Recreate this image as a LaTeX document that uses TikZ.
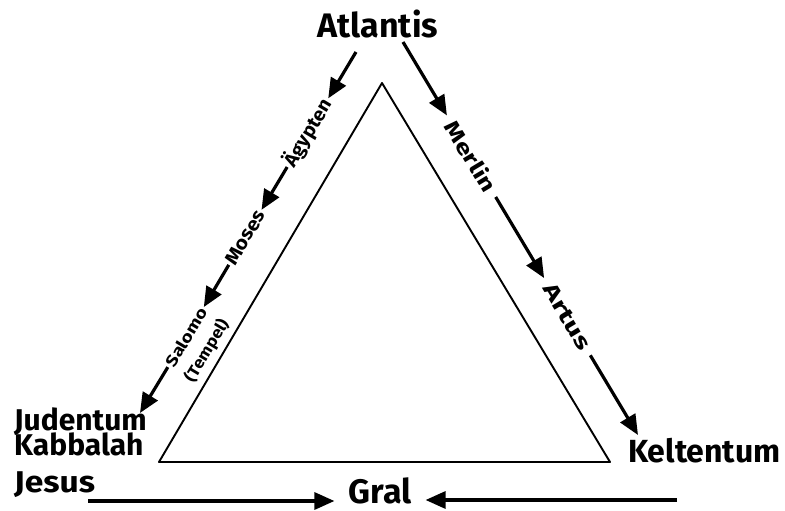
\documentclass[tikz,border=0pt]{standalone}
\usepackage{fontspec}
\setmainfont{Fira Sans}
\usetikzlibrary{arrows.meta}
\begin{document}
\begin{tikzpicture}[x=1pt,y=1pt,
  big/.style={font=\bfseries\fontsize{30}{30}\selectfont, inner sep=0pt},
  lab/.style={inner sep=0pt, outer sep=0pt, minimum height=14pt, font=\bfseries\fontsize{19}{19}\selectfont},
  arr/.style={line width=3.2pt, -{Triangle[length=20pt,width=17pt]}},
  tri/.style={line width=1.9pt, line join=round}]
\useasboundingbox (0,0) rectangle (785,-511);
% triangle
\draw[tri] (382,-83) -- (159,-462) -- (610,-462) -- cycle;
% main labels
\node[big, anchor=base, font=\bfseries\fontsize{34}{34}\selectfont] (atl) at (378,-38) {Atlantis};
\node[big, anchor=base west] (jud) at (14,-430) {Judentum};
\node[big, anchor=base west] (kab) at (14,-455) {Kabbalah};
\node[big, anchor=base west] (jes) at (14,-492) {\scalebox{1.12}[1]{Jesus}};
\node[big, anchor=base west, font=\bfseries\fontsize{32}{32}\selectfont] (kel) at (628,-462) {Keltentum};
\node[big, anchor=base, inner xsep=14pt, text depth=0pt, font=\bfseries\fontsize{34}{34}\selectfont] (gral) at (380,-503) {Gral};
% left chain labels
\coordinate (sL) at (356,-52);
\node[lab, rotate=59, minimum width=80pt] (aeg) at (307.7,-132.7) {\scalebox{1.05}[1]{Ägypten}};
\node[lab, rotate=59, minimum width=64pt] (mos) at (245.1,-237.3) {\scalebox{1.1}[1]{Moses}};
\node[lab, rotate=59, minimum width=70pt, font=\bfseries\fontsize{16}{16}\selectfont] (sal) at (186,-337.2) {\scalebox{1.2}[1]{Salomo}};
\node[lab, rotate=59, font=\bfseries\fontsize{16}{16}\selectfont] (tem) at (207,-350.5) {\scalebox{1.1}[1]{(Tempel)}};
\coordinate (eL) at (140,-413);
% right chain labels
\coordinate (sR) at (403,-42);
\node[lab, rotate=-59, minimum width=95pt, font=\bfseries\fontsize{21}{21}\selectfont] (mer) at (471.3,-156.2) {\scalebox{1.3}[1]{Merlin}};
\node[lab, rotate=-59, minimum width=90pt, font=\bfseries\fontsize{21}{21}\selectfont] (art) at (567.2,-316.7) {\scalebox{1.45}[1]{Artus}};
\coordinate (eR) at (638,-435);
% connectors
\draw[arr] (sL) -- (aeg);
\draw[arr] (aeg) -- (mos);
\draw[arr] (mos) -- (sal);
\draw[arr] (sal) -- (eL);
\draw[arr] (sR) -- (mer);
\draw[arr] (mer) -- (art);
\draw[arr] (art) -- (eR);
\coordinate (jS) at (88,-501);
\coordinate (kS) at (677,-500);
\draw[arr] (jS) -- (jS -| gral.west);
\draw[arr] (kS) -- (kS -| gral.east);
\end{tikzpicture}
\end{document}
